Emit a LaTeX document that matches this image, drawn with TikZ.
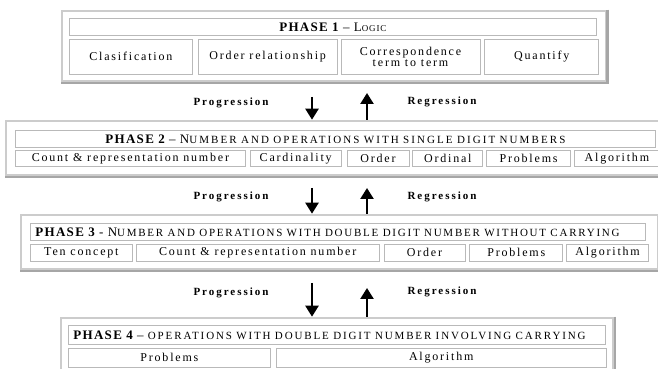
\documentclass[tikz,border=0pt]{standalone}
\usepackage{fontspec}
\setmainfont{Liberation Serif}
\usetikzlibrary{arrows.meta,positioning,fit,backgrounds}

\newcommand\spaced[1]{\addfontfeatures{LetterSpace=#1}}
\newcommand\smallup[3]{{\fontsize{#1}{#1}\selectfont\spaced{#2}#3}}

\tikzset{
  basic/.style  = {draw=gray!55, line width=0.8pt, fill=white, rectangle, inner sep=0pt},
  title/.style  = {basic, minimum height=17pt, inner xsep=5pt,
                   font=\fontsize{13}{14}\selectfont\spaced{10}},
  cell/.style   = {basic, align=center, font=\fontsize{12}{13}\selectfont\spaced{15}},
  frame/.style  = {draw=gray!40, line width=2.6pt, fill=white, inner sep=7pt},
  edge/.style   = {draw=gray!70, line width=2.6pt},
  label/.style  = {font=\fontsize{11}{12}\selectfont\bfseries\spaced{18}},
  flow/.style   = {line width=2.4pt, -{Triangle[length=11pt,width=13pt]}}
}

\begin{document}
\begin{tikzpicture}[x=1pt, y=1pt]
\useasboundingbox (0,0) rectangle (658,369);

% fase 1
\node[title, text width=517pt, align=center, anchor=north west] (t1) at (69,351)
  {{\bfseries PHASE 1} -- L\smallup{9}{10}{OGIC}};
\begin{scope}[every node/.style={cell, minimum height=35pt}]
\node [below right=3pt and 0pt of t1.south west, minimum width=123pt] (c11) {Clasification};
\node [right=5pt of c11, minimum width=139pt] (c12) {Order relationship};
\node [right=3pt of c12, minimum width=139pt] (c13) {Correspondence\\[-2pt] term to term};
\node [right=4pt of c13, minimum width=114pt] (c14) {Quantify};
\end{scope}

% fase 2
\node[title, text width=630pt, align=center, anchor=north west] (t2) at (15,239)
  {{\bfseries PHASE 2} -- N\smallup{11}{19}{UMBER AND OPERATIONS WITH SINGLE DIGIT NUMBERS}};
\begin{scope}[every node/.style={cell, minimum height=16pt}]
\node [below right=2pt and 0pt of t2.south west, minimum width=230pt] (c21) {Count \& representation number};
\node [right=4pt of c21, minimum width=91pt] (c22) {Cardinality};
\node [right=5pt of c22, minimum width=62pt] (c23) {Order};
\node [right=3pt of c23, minimum width=70pt] (c24) {Ordinal};
\node [right=3pt of c24, minimum width=84pt] (c25) {Problems};
\node [right=3pt of c25, minimum width=85pt] (c26) {Algorithm};
\end{scope}

% fase 3
\node[title, text width=605pt, align=left, anchor=north west] (t3) at (30,146)
  {{\bfseries PHASE 3} - N\smallup{11}{16}{UMBER AND OPERATIONS WITH DOUBLE DIGIT NUMBER WITHOUT CARRYING}};
\begin{scope}[every node/.style={cell, minimum height=17pt}]
\node [below right=3pt and 0pt of t3.south west, minimum width=102pt] (c31) {Ten concept};
\node [right=3pt of c31, minimum width=243pt] (c32) {Count \& representation number};
\node [right=4pt of c32, minimum width=81pt] (c33) {Order};
\node [right=4pt of c33, minimum width=93pt] (c34) {Problems};
\node [right=3pt of c34, minimum width=82pt] (c35) {Algorithm};
\end{scope}

% fase 4
\node[title, minimum height=19pt, text width=527pt, align=left, anchor=north west] (t4) at (68,44)
  {{\bfseries PHASE 4} -- \smallup{11}{17}{OPERATIONS WITH DOUBLE DIGIT NUMBER INVOLVING CARRYING}};
\begin{scope}[every node/.style={cell, minimum height=19pt}]
\node [below right=3pt and 0pt of t4.south west, minimum width=202pt] (c41) {Problems};
\node [right=5pt of c41, minimum width=330pt] (c42) {Algorithm};
\end{scope}

% marcos de cada fase
\begin{scope}[on background layer]
\fill[white] (0,0) rectangle (658,369);
\node[frame, fit=(t1)(c11)(c14)] (f1) {};
\node[frame, fit=(t2)(c21)(c26), inner xsep=9pt, inner ysep=9pt] (f2) {};
\node[frame, fit=(t3)(c31)(c35), inner xsep=9pt, inner ysep=8pt] (f3) {};
\node[frame, fit=(t4)(c41)(c42)] (f4) {};
\foreach \value in {1,...,4}
  \draw[edge] (f\value.north east) -- (f\value.south east) -- (f\value.south west);
\end{scope}

% progresion y regresion
\node[label] (prog2) at (231,266) {Progression};
\node[label] (reg2) at (442,267) {Regression};
\node[label] (prog3) at (231,172) {Progression};
\node[label] (reg3) at (442,172) {Regression};
\node[label] (prog4) at (231,76) {Progression};
\node[label] (reg4) at (442,77) {Regression};

\coordinate (down2) at (312,272);
\coordinate (up2) at (367,276);
\coordinate (down3) at (312,181);
\coordinate (up3) at (367,181);
\coordinate (down4) at (312,86);
\coordinate (up4) at (367,81);

\foreach \value in {2,3,4}
  \draw[flow] (down\value) -- (down\value |- f\value.north);

\foreach \value in {2,3,4}
  \draw[flow] (up\value |- f\value.north) -- (up\value);
\end{tikzpicture}
\end{document}
